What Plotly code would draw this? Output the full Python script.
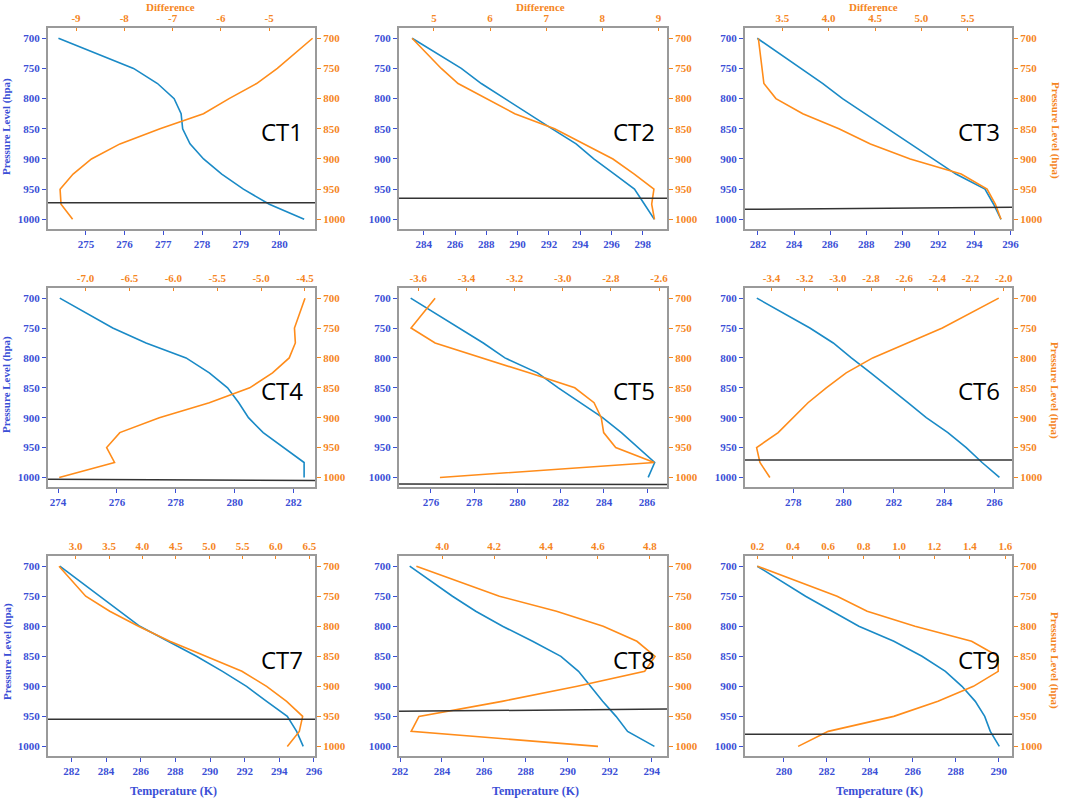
import plotly.graph_objects as go

pressure = [700, 750, 775, 800, 825, 850, 875, 900, 925, 950, 975, 1000]
panel_names = ["CT1", "CT2", "CT3", "CT4", "CT5", "CT6", "CT7", "CT8", "CT9"]

temp_ct1 = [274.29, 276.23, 276.85, 277.28, 277.46, 277.50, 277.69, 278.04, 278.51, 279.07, 279.74, 280.64]
diff_ct1 = [-4.10, -4.83, -5.26, -5.83, -6.36, -7.26, -8.09, -8.68, -9.06, -9.33, -9.31, -9.07]
temp_ct2 = [283.26, 286.40, 287.68, 289.17, 290.66, 292.21, 293.74, 294.87, 296.19, 297.47, 298.11, 298.74]
diff_ct2 = [4.61, 5.13, 5.43, 5.93, 6.44, 7.15, 7.68, 8.19, 8.57, 8.92, 8.88, 8.93]
temp_ct3 = [281.96, 284.41, 285.60, 286.69, 287.95, 289.19, 290.45, 291.69, 292.98, 294.59, 295.07, 295.48]
diff_ct3 = [3.24, 3.28, 3.30, 3.43, 3.72, 4.11, 4.45, 4.88, 5.43, 5.71, 5.80, 5.86]
temp_ct4 = [274.06, 275.86, 276.99, 278.35, 279.14, 279.76, 280.14, 280.47, 280.97, 281.68, 282.36, 282.36]
diff_ct4 = [-4.50, -4.62, -4.61, -4.68, -4.87, -5.13, -5.59, -6.16, -6.61, -6.76, -6.67, -7.30]
temp_ct5 = [275.06, 277.31, 278.42, 279.42, 280.93, 281.89, 282.89, 283.94, 284.81, 285.58, 286.35, 286.05]
diff_ct5 = [-3.53, -3.63, -3.53, -3.33, -3.14, -2.95, -2.87, -2.84, -2.83, -2.78, -2.62, -3.51]
temp_ct6 = [276.55, 278.66, 279.59, 280.31, 281.08, 281.84, 282.56, 283.29, 284.15, 284.88, 285.51, 286.20]
diff_ct6 = [-2.03, -2.37, -2.58, -2.79, -2.95, -3.07, -3.18, -3.27, -3.36, -3.49, -3.47, -3.41]
temp_ct7 = [281.33, 283.64, 284.79, 285.95, 287.58, 289.22, 290.72, 292.11, 293.27, 294.46, 295.00, 295.38]
diff_ct7 = [2.75, 3.15, 3.51, 3.94, 4.41, 4.96, 5.49, 5.86, 6.16, 6.40, 6.35, 6.17]
temp_ct8 = [282.46, 284.50, 285.61, 286.89, 288.32, 289.67, 290.51, 291.10, 291.66, 292.30, 292.85, 294.13]
diff_ct8 = [3.90, 4.22, 4.44, 4.62, 4.75, 4.82, 4.78, 4.52, 4.23, 3.91, 3.88, 4.60]
temp_ct9 = [278.76, 281.01, 282.25, 283.49, 285.12, 286.43, 287.52, 288.29, 288.91, 289.35, 289.61, 290.03]
diff_ct9 = [0.20, 0.65, 0.82, 1.09, 1.41, 1.56, 1.56, 1.42, 1.22, 0.97, 0.60, 0.43]

# black reference line: pressure at left and right edge of each panel
line_left = [972.6, 965.0, 983.4, 1003.0, 1011.0, 970.8, 954.8, 941.6, 979.6]
line_right = [972.6, 965.0, 980.1, 1005.0, 1012.0, 970.8, 954.8, 937.8, 979.6]

temp_ranges = [[274.02, 280.92], [282.42, 299.55], [281.28, 296.09],
               [273.66, 282.73], [274.52, 286.92], [276.08, 286.70],
               [280.65, 296.06], [281.95, 294.73], [278.19, 290.62]]
diff_ranges = [[-9.58, -4.05], [4.377, 9.153], [3.096, 5.979],
               [-7.428, -4.386], [-3.680, -2.567], [-3.560, -1.950],
               [2.585, 6.585], [3.833, 4.866], [0.130, 1.638]]

temp_ticks = [[275, 276, 277, 278, 279, 280],
              [284, 286, 288, 290, 292, 294, 296, 298],
              [282, 284, 286, 288, 290, 292, 294, 296],
              [274, 276, 278, 280, 282],
              [276, 278, 280, 282, 284, 286],
              [278, 280, 282, 284, 286],
              [282, 284, 286, 288, 290, 292, 294, 296],
              [282, 284, 286, 288, 290, 292, 294],
              [280, 282, 284, 286, 288, 290]]
diff_ticks = [[-9, -8, -7, -6, -5],
              [5, 6, 7, 8, 9],
              [3.5, 4.0, 4.5, 5.0, 5.5],
              [-7.0, -6.5, -6.0, -5.5, -5.0, -4.5],
              [-3.6, -3.4, -3.2, -3.0, -2.8, -2.6],
              [-3.4, -3.2, -3.0, -2.8, -2.6, -2.4, -2.2, -2.0],
              [3.0, 3.5, 4.0, 4.5, 5.0, 5.5, 6.0, 6.5],
              [4.0, 4.2, 4.4, 4.6, 4.8],
              [0.2, 0.4, 0.6, 0.8, 1.0, 1.2, 1.4, 1.6]]
diff_tick_labels = [["-9", "-8", "-7", "-6", "-5"],
                    ["5", "6", "7", "8", "9"],
                    ["3.5", "4.0", "4.5", "5.0", "5.5"],
                    ["-7.0", "-6.5", "-6.0", "-5.5", "-5.0", "-4.5"],
                    ["-3.6", "-3.4", "-3.2", "-3.0", "-2.8", "-2.6"],
                    ["-3.4", "-3.2", "-3.0", "-2.8", "-2.6", "-2.4", "-2.2", "-2.0"],
                    ["3.0", "3.5", "4.0", "4.5", "5.0", "5.5", "6.0", "6.5"],
                    ["4.0", "4.2", "4.4", "4.6", "4.8"],
                    ["0.2", "0.4", "0.6", "0.8", "1.0", "1.2", "1.4", "1.6"]]
pressure_ticks = [700, 750, 800, 850, 900, 950, 1000]

temps = [temp_ct1, temp_ct2, temp_ct3, temp_ct4, temp_ct5, temp_ct6, temp_ct7, temp_ct8, temp_ct9]
diffs = [diff_ct1, diff_ct2, diff_ct3, diff_ct4, diff_ct5, diff_ct6, diff_ct7, diff_ct8, diff_ct9]

W, H = 1065, 800


def px(x):
    return x / W


def py(y):
    return (H - y) / H


col_px = [(48, 315), (399, 667), (745, 1012)]
row_px = [(28, 229), (288, 487), (556, 756)]

BLUE_LINE = "#1a8ac6"
ORANGE_LINE = "#ff8c1a"
BLUE_TXT = "#3b4fd6"
ORANGE_TXT = "#f5861f"
AX = "#9a9a9a"
SERIF = "Liberation Serif"

fig = go.Figure()
layout = {}
shapes = []
annotations = []

for i in range(9):
    r, c = divmod(i, 3)
    xd = [px(col_px[c][0]), px(col_px[c][1])]
    yd = [py(row_px[r][1]), py(row_px[r][0])]
    xa, xb = 2 * i + 1, 2 * i + 2
    ya, yb = 2 * i + 1, 2 * i + 2
    xa_s = "x" if xa == 1 else f"x{xa}"
    ya_s = "y" if ya == 1 else f"y{ya}"
    xb_s, yb_s = f"x{xb}", f"y{yb}"

    fig.add_trace(go.Scatter(x=temps[i], y=pressure, mode="lines",
                             line=dict(color=BLUE_LINE, width=1.6),
                             xaxis=xa_s, yaxis=ya_s, showlegend=False))
    fig.add_trace(go.Scatter(x=diffs[i], y=pressure, mode="lines",
                             line=dict(color=ORANGE_LINE, width=1.6),
                             xaxis=xb_s, yaxis=yb_s, showlegend=False))

    tickfont_b = dict(family=SERIF, size=11, color=BLUE_TXT, weight="bold")
    tickfont_o = dict(family=SERIF, size=11, color=ORANGE_TXT, weight="bold")
    common = dict(showline=True, linecolor=AX, linewidth=2, showgrid=False,
                  zeroline=False, tickwidth=1, automargin=False)

    layout["xaxis" if xa == 1 else f"xaxis{xa}"] = dict(
        domain=xd, anchor=ya_s, range=temp_ranges[i], tickvals=temp_ticks[i],
        tickfont=tickfont_b, tickcolor=BLUE_TXT, ticks="outside", ticklen=4,
        **common)
    layout[f"xaxis{xb}"] = dict(
        overlaying=xa_s, anchor=ya_s, side="top", range=diff_ranges[i],
        tickvals=diff_ticks[i], ticktext=diff_tick_labels[i],
        tickfont=tickfont_o, tickcolor=ORANGE_TXT, ticks="inside", ticklen=3,
        **common)
    layout["yaxis" if ya == 1 else f"yaxis{ya}"] = dict(
        domain=yd, anchor=xa_s, range=[1016, 683], tickvals=pressure_ticks,
        tickfont=tickfont_b, tickcolor=BLUE_TXT, ticks="outside", ticklen=4,
        **common)
    layout[f"yaxis{yb}"] = dict(
        overlaying=ya_s, anchor=xa_s, side="right", range=[1016, 683],
        tickvals=pressure_ticks, tickfont=tickfont_o, tickcolor=ORANGE_TXT,
        ticks="outside", ticklen=4, **common)

    shapes.append(dict(type="line", xref=f"{xa_s} domain", yref=ya_s,
                       x0=0, x1=1, y0=line_left[i], y1=line_right[i],
                       line=dict(color="#333333", width=1.5)))
    annotations.append(dict(text=panel_names[i], xref=f"{xa_s} domain", yref=ya_s,
                            x=0.875, y=855, showarrow=False, xanchor="center",
                            yanchor="middle",
                            font=dict(family="Open Sans", size=24, color="black")))

# axis titles as paper annotations
title_font_b = dict(family=SERIF, size=12, color=BLUE_TXT, weight="bold")
title_font_o = dict(family=SERIF, size=11, color=ORANGE_TXT, weight="bold")
diff_title_x = [170, 540, 873]
temp_title_x = [173, 535, 879]
left_title_y = [127, 385, 652]
right_title_y = [130, 390, 660]
for c in range(3):
    annotations.append(dict(text="Difference", xref="paper", yref="paper",
                            x=px(diff_title_x[c]), y=py(0), showarrow=False,
                            xanchor="center", yanchor="top", borderpad=0,
                            font=title_font_o))
    annotations.append(dict(text="Temperature (K)", xref="paper", yref="paper",
                            x=px(temp_title_x[c]), y=py(791), showarrow=False,
                            xanchor="center", yanchor="middle", font=title_font_b))
for r in range(3):
    annotations.append(dict(text="Pressure Level (hpa)", xref="paper", yref="paper",
                            x=px(7), y=py(left_title_y[r]), showarrow=False,
                            textangle=-90, xanchor="center", yanchor="middle",
                            font=dict(family=SERIF, size=11, color=BLUE_TXT, weight="bold")))
    annotations.append(dict(text="Pressure Level (hpa)", xref="paper", yref="paper",
                            x=px(1055), y=py(right_title_y[r]), showarrow=False,
                            textangle=90, xanchor="center", yanchor="middle",
                            font=dict(family=SERIF, size=11, color=ORANGE_TXT, weight="bold")))

fig.update_layout(**layout)
fig.update_layout(width=W, height=H, margin=dict(l=0, r=0, t=0, b=0),
                  paper_bgcolor="white", plot_bgcolor="white",
                  shapes=shapes, annotations=annotations, showlegend=False)

fig.write_html("out.html", config={"displayModeBar": False},
               post_script="document.body.style.margin='0px';document.body.style.overflow='hidden';")
